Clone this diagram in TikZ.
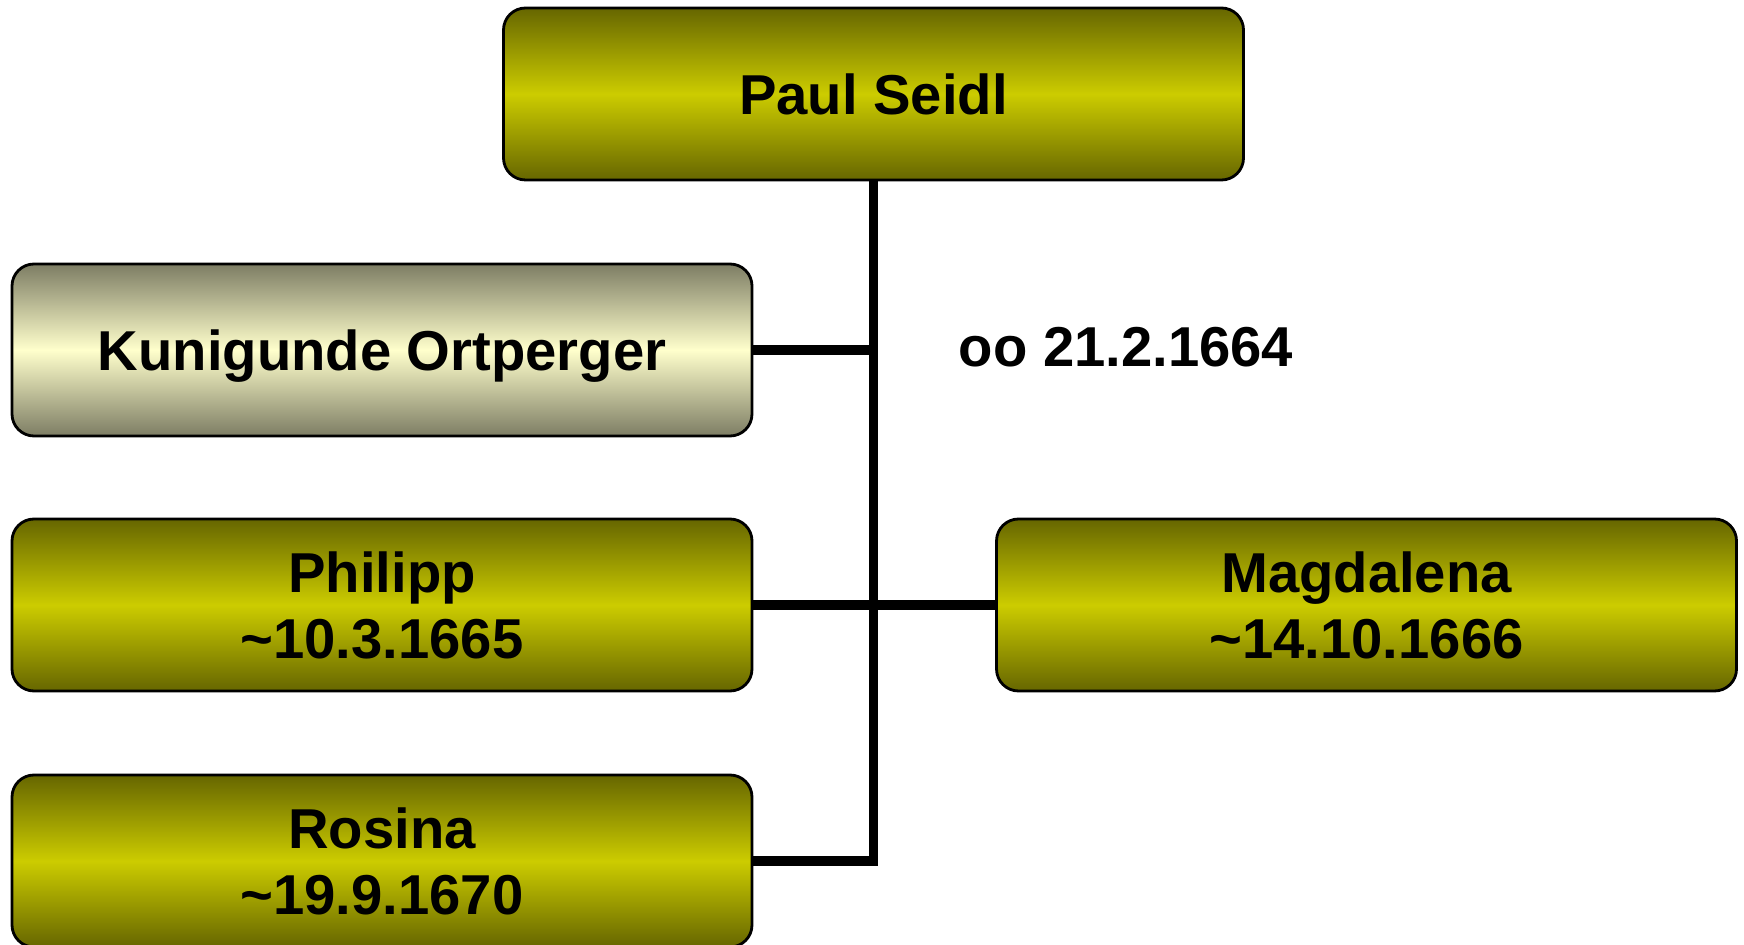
\documentclass[tikz,border=0pt]{standalone}
\usepackage{fontspec}
\setmainfont{Liberation Sans}
\usetikzlibrary{positioning}

\definecolor{OliveDark}{RGB}{102,102,0}
\definecolor{OliveLight}{RGB}{204,204,0}
\definecolor{GreyDark}{RGB}{125,125,100}
\definecolor{CreamLight}{RGB}{255,255,204}

\begin{document}
\begin{tikzpicture}
\tikzset{PersonStyle/.style = {rectangle, draw=black, line width=0.8pt,
                               rounded corners=0.22cm,
                               minimum width=7.4cm, minimum height=1.72cm,
                               inner sep=0pt, align=center,
                               font=\fontsize{16}{18.8}\selectfont\bfseries,
                               top color=OliveDark, bottom color=OliveDark,
                               middle color=OliveLight}
  }
\tikzset{SpouseStyle/.style = {PersonStyle, top color=GreyDark,
                               bottom color=GreyDark, middle color=CreamLight,
                               text depth=0pt}
  }
\tikzset{LineStyle/.style = {draw=black, line width=2.6pt}}
\useasboundingbox (0,0) rectangle (17.44,-9.45);

\node[PersonStyle] (paul) at (8.735,-0.94) {Paul Seidl};
\node[SpouseStyle] (kunigunde) at (3.82,-3.50) {Kunigunde Ortperger};
\node[PersonStyle] (philipp) at (3.82,-6.05) {Philipp\\\char`~10.3.1665};
\node[PersonStyle] (magdalena) at (13.665,-6.05) {Magdalena\\\char`~14.10.1666};
\node[PersonStyle] (rosina) at (3.82,-8.61) {Rosina\\\char`~19.9.1670};
\node[font=\fontsize{16}{18.8}\selectfont\bfseries, anchor=west, inner sep=0pt]
  (marriage) at (9.58,-3.47) {oo 21.2.1664};

%-----------------------------
\draw[LineStyle] (paul.south) |- (rosina.east);
\draw[LineStyle] (kunigunde.east) -- (kunigunde.east -| paul.south);
\draw[LineStyle] (philipp.east) -- (magdalena.west);

\end{tikzpicture}
\end{document}
